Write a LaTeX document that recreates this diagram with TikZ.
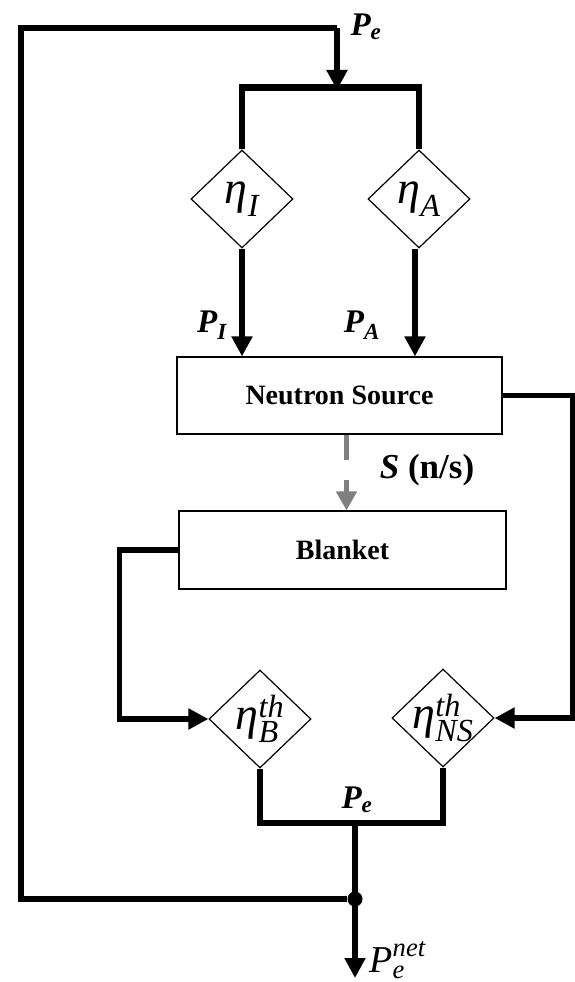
\documentclass[tikz,border=0pt]{standalone}
\usepackage{fontspec}
\setmainfont{Liberation Serif}
\usepackage{amsmath}
\usepackage{tikz}
\usetikzlibrary{arrows.meta, positioning, shapes.geometric, calc}
\definecolor{neutrongray}{HTML}{808080}
\colorlet{powerblack}{black}
\newcommand{\etaof}[1]{$\text{\itshape η}_{\text{\itshape #1}}$}
\newcommand{\etath}[1]{$\text{\itshape η}^{\text{\itshape th}}_{\text{\itshape #1}}$}
\newcommand{\bpow}[1]{$\text{\bfseries\itshape P}_{\text{\bfseries\itshape #1}}$}
\tikzset{
  powerline/.style={line width=5.5pt, draw=powerblack},
  powerarrow/.style={powerline, -{Triangle[width=20pt,length=20pt]}},
  neutronflow/.style={line width=5pt, draw=neutrongray, dash pattern=on 25pt off 20pt,
    -{Triangle[width=20pt,length=19pt]}},
  effbox/.style={diamond, draw, line width=1.2pt, minimum width=102pt, minimum height=98pt,
    inner sep=-15pt, font=\fontsize{46}{50}\selectfont},
  unitbox/.style={rectangle, draw, line width=1.2pt, inner sep=0pt,
    font=\fontsize{28}{30}\selectfont\bfseries},
  plabel/.style={font=\fontsize{33}{36}\selectfont}
}

\begin{document}
\begin{tikzpicture}[x=1pt,y=-1pt]
    \useasboundingbox (0,0) rectangle (575,982);

    % heating and acceleration
    \node[effbox] (dI) at (242,199) {\etaof{I}};
    \node[effbox] (dA) at (419,199) {\etaof{A}};
    \node[unitbox, minimum width=325pt, minimum height=77pt] (ns) at (339.5,395.5) {Neutron Source};
    \node[unitbox, minimum width=327pt, minimum height=78pt] (bl) at (342.5,550) {Blanket};

    % thermal conversion
    \node[effbox] (dB) at (260,719) {\etath{B}};
    \node[effbox] (dNS) at (443,718) {\etath{NS}};

    \coordinate (barL) at (239,87);
    \coordinate (barR) at (422,87);
    \coordinate (looptop) at (21,28);
    \coordinate (loopbot) at (21,899);
    \coordinate (feed) at (337,28);
    \coordinate (merge) at (355,823);
    \coordinate (out) at (355,978);
    \node[circle, fill=powerblack, inner sep=0pt, minimum size=15pt] (tap) at (355,899) {};

    \draw[powerline, line width=7pt] (barL) -- (barR);
    \draw[powerline] (tap) -- (loopbot) -- (looptop) -- (feed);
    \draw[powerarrow] (feed) -- ([yshift=-3pt]feed |- barL);
    \draw[powerline] (dI.north |- barL) -- (dI.north);
    \draw[powerline] (dA.north |- barL) -- (dA.north);
    \draw[powerarrow] (dI.south) -- (dI.south |- ns.north);
    \draw[powerarrow] ([xshift=-4pt]dA.south) -- ([xshift=-4pt]dA.south |- ns.north);

    \draw[neutronflow] ([xshift=7pt]ns.south) -- ([xshift=7pt]ns.south |- bl.north);

    \draw[powerarrow] (ns.east) -- ++(70,0) |- (dNS.east);
    \draw[powerarrow] (bl.west) -- ++(-59,0) |- (dB.west);
    \draw[powerline] (dB.south) -- (dB.south |- merge) -| (dNS.south);
    \draw[powerarrow] (merge) -- (out);

    \node[plabel, anchor=west] (pe1) at (347,27) {\bpow{e}};
    \node[plabel] (pI) at (212,325) {\bpow{I}};
    \node[plabel] (pA) at (362,325) {\bpow{A}};
    \node[font=\fontsize{35}{38}\selectfont\bfseries] (src) at (427,470) {\textit{S} (n/s)};
    \node[plabel] (pe2) at (357,800) {\bpow{e}};
    \node[font=\fontsize{38}{40}\selectfont, anchor=base west] (penet) at (366,972)
      {$\text{\itshape P}^{\text{\itshape net}}_{\text{\itshape e}}$};
  \end{tikzpicture}
\end{document}
